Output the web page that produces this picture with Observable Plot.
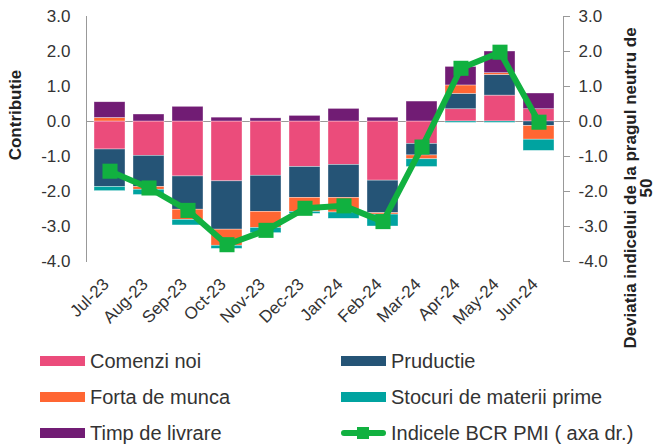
<!DOCTYPE html>
<html>
<head>
<meta charset="utf-8">
<script src="https://cdn.jsdelivr.net/npm/d3@7"></script>
<script src="https://cdn.jsdelivr.net/npm/@observablehq/plot@0.6"></script>
<style>
  html, body { margin: 0; padding: 0; background: #fff; }
  #wrap { position: relative; width: 655px; height: 448px; font-family: "Liberation Sans", Arial, sans-serif; color: #333; overflow: hidden; }
  #chart svg { display: block; }
  #chart g[aria-label="y-axis tick"] { stroke: #999; }
  .ytitle { position: absolute; transform: translate(-50%, -50%) rotate(-90deg); white-space: nowrap; font-weight: bold; font-size: 17px; color: #222; text-align: center; }
  #legend { position: absolute; left: 0; top: 343px; width: 655px; }
  .li { position: absolute; height: 36px; line-height: 36px; font-size: 20px; color: #333; white-space: nowrap; display: flex; align-items: center; }
  .sw { width: 45px; height: 10px; margin-right: 5px; }
  .lsw { position: relative; width: 45px; height: 36px; margin-right: 5px; }
  .lsw .ln { position: absolute; left: 0; right: 0; top: 15px; height: 6px; border-radius: 3px; background: #11b140; }
  .lsw .mk { position: absolute; left: 16px; top: 12px; width: 12px; height: 12px; background: #11b140; }
</style>
</head>
<body>
<div id="wrap">
  <div id="chart"></div>
  <div class="ytitle" style="left:16px; top:115px;">Contributie</div>
  <div class="ytitle" style="left:639px; top:188px; line-height:16px;">Deviatia indicelui de la pragul neutru de<br>50</div>
  <div id="legend"></div>
</div>
<script>
const months = ["Jul-23","Aug-23","Sep-23","Oct-23","Nov-23","Dec-23","Jan-24","Feb-24","Mar-24","Apr-24","May-24","Jun-24"];
const comenziNoi = [-0.80,-0.98,-1.57,-1.71,-1.55,-1.30,-1.24,-1.69,-0.64,0.35,0.74,0.35];
const productie  = [-1.07,-0.89,-0.95,-1.38,-1.03,-0.88,-0.94,-0.93,-0.33,0.44,0.59,-0.13];
const fortaMunca = [0.10,-0.08,-0.29,-0.46,-0.46,-0.40,-0.42,-0.04,-0.11,0.24,0.05,-0.39];
const stocuri    = [-0.12,-0.15,-0.16,-0.09,-0.15,-0.06,-0.18,-0.34,-0.22,-0.04,-0.04,-0.32];
const timpLivrare= [0.45,0.20,0.42,0.11,0.09,0.16,0.36,0.11,0.57,0.53,0.62,0.45];
const pmi        = [-1.42,-1.90,-2.54,-3.52,-3.11,-2.48,-2.41,-2.86,-0.73,1.52,1.98,-0.02];
const yTicks = [-4,-3,-2,-1,0,1,2,3];

const seriesNames = ["Comenzi noi","Pruductie","Forta de munca","Stocuri de materii prime","Timp de livrare"];
const seriesColors = ["#eb4c7b","#255476","#ff6633","#00a3a0","#711c74"];
const seriesValues = [comenziNoi, productie, fortaMunca, stocuri, timpLivrare];
const lineName = "Indicele BCR PMI ( axa dr.)";
const lineColor = "#11b140";

const bars = [];
seriesNames.forEach((s, i) => months.forEach((m, j) => bars.push({month: m, series: s, value: seriesValues[i][j]})));
const line = months.map((m, j) => ({month: m, value: pmi[j]}));
const fmt = d => d.toFixed(1);

let frameLeft, frameRight;
try {
  frameLeft = Plot.frame({anchor: "left", stroke: "#999"});
  frameRight = Plot.frame({anchor: "right", stroke: "#999"});
} catch (e) { frameLeft = null; frameRight = null; }

const chart = Plot.plot({
  width: 655,
  height: 340,
  marginLeft: 86,
  marginRight: 92,
  marginTop: 16,
  marginBottom: 79,
  style: {fontFamily: "'Liberation Sans', Arial, sans-serif", fontSize: "17px", color: "#333", background: "#fff"},
  x: {domain: months, paddingInner: 0.2, paddingOuter: 0.1, label: null},
  y: {domain: [-4, 3], label: null},
  color: {domain: seriesNames, range: seriesColors},
  marks: [
    Plot.ruleY([0], {stroke: "#999", strokeWidth: 1}),
    Plot.barY(bars, Plot.stackY({x: "month", y: "value", fill: "series", stroke: "#fff", strokeOpacity: 0.6, strokeWidth: 0.6})),
    Plot.line(line, {x: "month", y: "value", stroke: lineColor, strokeWidth: 6}),
    Plot.dot(line, {x: "month", y: "value", symbol: "square", r: 8.5, fill: lineColor}),
    frameLeft, frameRight,
    Plot.axisY({anchor: "left", ticks: yTicks, tickFormat: fmt, tickSize: 0, tickPadding: 16, label: null, fontSize: 17}),
    Plot.axisY({anchor: "right", ticks: yTicks, tickFormat: fmt, tickSize: 6, tickPadding: 9, label: null, fontSize: 17}),
    Plot.axisX({tickRotate: -45, tickSize: 0, tickPadding: 20, dx: -4, label: null, fontSize: 17})
  ].filter(Boolean)
});
document.getElementById("chart").appendChild(chart);

const legend = document.getElementById("legend");
const items = [
  {name: "Comenzi noi", color: seriesColors[0], col: 0, row: 0},
  {name: "Pruductie", color: seriesColors[1], col: 1, row: 0},
  {name: "Forta de munca", color: seriesColors[2], col: 0, row: 1},
  {name: "Stocuri de materii prime", color: seriesColors[3], col: 1, row: 1},
  {name: "Timp de livrare", color: seriesColors[4], col: 0, row: 2},
  {name: lineName, color: lineColor, col: 1, row: 2, isLine: true}
];
const colX = [40, 341];
items.forEach(it => {
  const d = document.createElement("div");
  d.className = "li";
  d.style.left = colX[it.col] + "px";
  d.style.top = (it.row * 36) + "px";
  if (it.isLine) {
    d.innerHTML = `<span class="lsw"><span class="ln"></span><span class="mk"></span></span><span></span>`;
  } else {
    d.innerHTML = `<span class="sw" style="background:${it.color}"></span><span></span>`;
  }
  d.lastChild.textContent = it.name;
  legend.appendChild(d);
});
</script>
</body>
</html>
